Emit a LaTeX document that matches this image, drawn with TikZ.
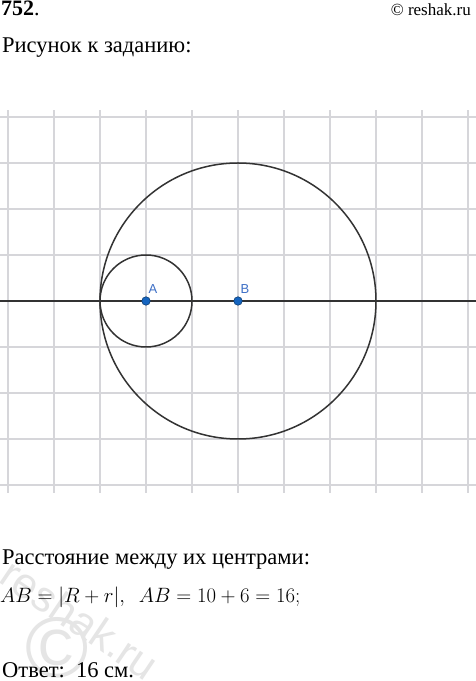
\documentclass[tikz,border=0pt]{standalone}
\usepackage{fontspec}
\setmainfont{Liberation Serif}
\newfontfamily\labelfont{Liberation Sans}
\usepackage{tikz}

\definecolor{ptblue}{HTML}{1565C0}
\definecolor{lblblue}{HTML}{3D6FC6}
\definecolor{gridgray}{HTML}{D6D6DA}
\definecolor{curvegray}{HTML}{333333}

\tikzset{
  gridline/.style={color=gridgray, line width=1.1pt},
  curve/.style={color=curvegray, line width=1.5pt},
  pt/.style={circle, fill=ptblue, draw=ptblue!60!black, line width=0.6pt,
    inner sep=0pt, minimum size=8.5pt},
  ptlabel/.style={font=\labelfont\fontsize{13}{13}\selectfont, text=lblblue, inner sep=0pt},
  txt/.style={anchor=base west, inner sep=0pt, font=\fontsize{22.5}{22.5}\selectfont},
}

\begin{document}
\begin{tikzpicture}[x=1pt, y=1pt]
  \useasboundingbox (0,0) rectangle (476,681);
  \fill[white] (0,0) rectangle (476,681);

  % watermark
  \node[text=gray!20, font=\labelfont\fontsize{43}{43}\selectfont, rotate=-34]
    (wm) at (80,62) {reshak.ru};
  \node[text=gray!20, font=\labelfont\fontsize{86}{86}\selectfont]
    (wmc) at (57,33) {\char"00A9};

  % header
  \node[txt, font=\fontsize{22}{22}\selectfont] (num) at (1,665) {\textbf{752}.};
  \node[anchor=base east, inner sep=0pt, font=\fontsize{17}{17}\selectfont]
    (site) at (471,665) {\char"00A9{} reshak.ru};
  \node[txt] (title) at (2,628) {Рисунок к заданию:};

  % drawing
  \begin{scope}[shift={(146,380)}, x=46pt, y=46pt]
    \foreach \x in {-3,...,7}
      \draw[gridline] (\x,-4.17) -- (\x,4.15);
    \foreach \y in {-4,...,4}
      \draw[gridline] (-3.2,\y) -- (7.2,\y);
    \coordinate (left) at (-3.2,0);
    \coordinate (right) at (7.2,0);
    \draw[curve] (left) -- (right);
    \draw[curve] (0,0) circle (1);
    \draw[curve] (2,0) circle (3);
    \node[pt] (A) at (0,0) {};
    \node[pt] (B) at (2,0) {};
    \node[ptlabel] (labA) at ([shift={(7pt,12pt)}]A) {A};
    \node[ptlabel] (labB) at ([shift={(7pt,12pt)}]B) {B};
  \end{scope}

  % solution
  \node[txt] (dist) at (2,116) {Расстояние между их центрами:};
  \node[txt, font=\fontsize{21}{21}\selectfont] (eq) at (0,78)
    {$AB=|R+r|,\ \ AB=10+6=16;$};
  \node[txt] (ans) at (2,3) {Ответ:\ \ 16 см.};
\end{tikzpicture}
\end{document}
